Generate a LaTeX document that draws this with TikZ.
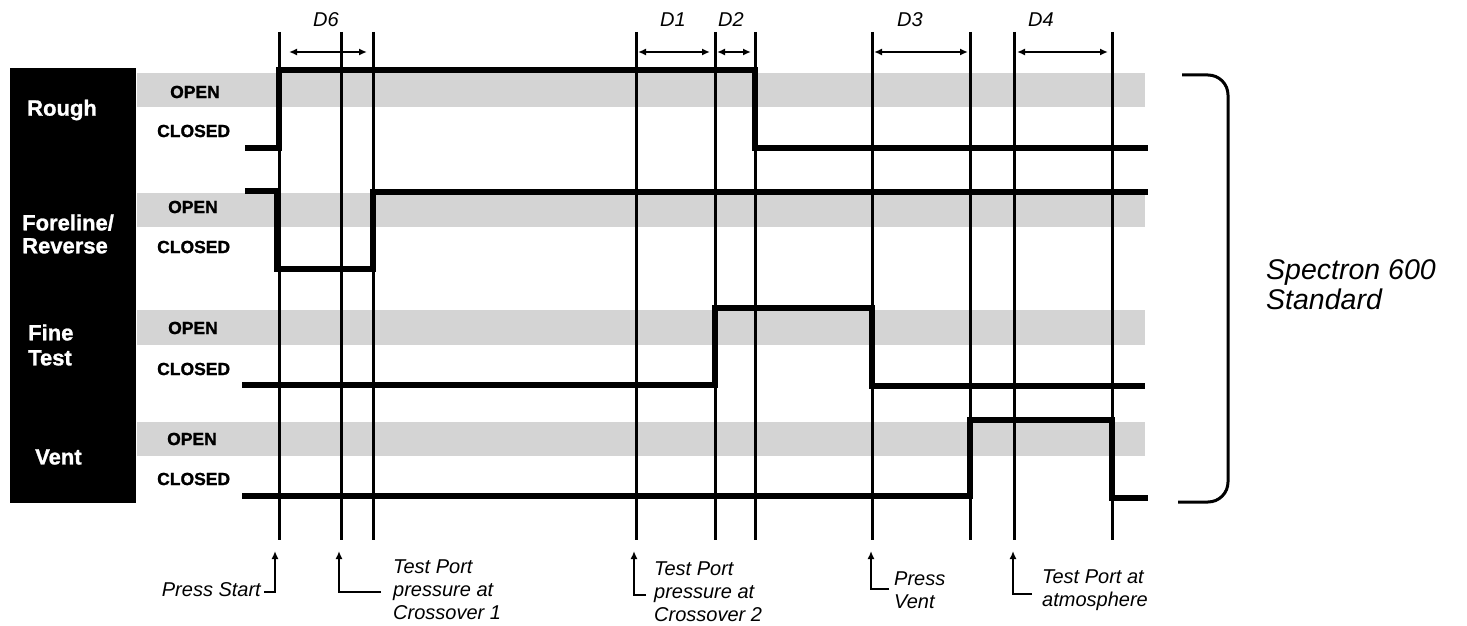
\documentclass[tikz,border=0pt]{standalone}
\usepackage{fontspec}
\setmainfont{Liberation Sans}
\newfontfamily\heavyfont{Liberation Sans}[BoldFeatures={FakeBold=1.2}]
\usetikzlibrary{arrows.meta}
\begin{document}
\begin{tikzpicture}[x=1pt,y=-1pt,
  wave/.style={line width=5.5pt, line join=miter},
  tline/.style={line width=3pt},
  band/.style={fill=black!17, draw=none},
  dimarrow/.style={line width=2.2pt, {Latex[length=8pt,width=7pt]}-{Latex[length=8pt,width=7pt]}},
  annarrow/.style={line width=2.6pt, -{Latex[length=8pt,width=7pt]}},
  dlab/.style={font=\fontsize{20}{22}\selectfont\itshape, inner sep=0pt},
  annlab/.style={font=\fontsize{20}{23}\selectfont\itshape, inner sep=0pt, align=left},
  state/.style={font=\fontsize{17.5}{19}\selectfont\heavyfont\bfseries, inner sep=0pt, anchor=west},
  valve/.style={font=\fontsize{22}{24}\selectfont\heavyfont\bfseries, text=white, inner sep=0pt, anchor=west, align=left},
  bracketline/.style={line width=3pt, rounded corners=20pt}]
\useasboundingbox (0,0) rectangle (1467,626);
% black label column
\fill[black] (10,68) rectangle (136,503);
% shaded OPEN bands
\fill[band] (137,73) rectangle (1145,107);
\fill[band] (137,193) rectangle (1145,227);
\fill[band] (137,310) rectangle (1145,345);
\fill[band] (137,422) rectangle (1145,456);
% valve labels
\node[valve] (rough) at (27,110) {Rough};
\node[valve, font=\fontsize{22}{23}\selectfont\heavyfont\bfseries] (fore) at (22,234) {Foreline/\\Reverse};
\node[valve, font=\fontsize{22}{25}\selectfont\heavyfont\bfseries] (fine) at (28,345) {Fine\\Test};
\node[valve] (vent) at (35,457) {Vent};
% state labels
\node[state] (o1) at (170,92) {OPEN};
\node[state] (c1) at (157,131) {CLOSED};
\node[state] (o2) at (168,207) {OPEN};
\node[state] (c2) at (157,247) {CLOSED};
\node[state] (o3) at (168,328) {OPEN};
\node[state] (c3) at (157,369) {CLOSED};
\node[state] (o4) at (167,439) {OPEN};
\node[state] (c4) at (157,479) {CLOSED};
% timing lines
\foreach \x/\n in {279/a,341/b,373/c,636/d,715/e,755/f,872/g,970/h,1014/i,1112/j}{
  \coordinate (top\n) at (\x,32);
  \coordinate (bot\n) at (\x,540);
  \draw[tline] (top\n) -- (bot\n);
}
% waveforms
\draw[wave] (245,148) -- (279,148) -- (279,70) -- (755,70) -- (755,148) -- (1148,148);
\draw[wave] (245,191) -- (277,191) -- (277,269) -- (373,269) -- (373,192) -- (1148,192);
\draw[wave] (242,385) -- (715,385) -- (715,308) -- (872,308) -- (872,386) -- (1145,386);
\draw[wave] (242,496) -- (970,496) -- (970,420) -- (1112,420) -- (1112,498) -- (1148,498);
% duration labels and arrows
\node[dlab] (D6) at (326,20) {D6};
\node[dlab] (D1) at (673,20) {D1};
\node[dlab] (D2) at (731,20) {D2};
\node[dlab] (D3) at (910,20) {D3};
\node[dlab] (D4) at (1041,20) {D4};
\coordinate (d6a) at (289,52); \coordinate (d6b) at (367,52);
\coordinate (d1a) at (638,52); \coordinate (d1b) at (710,52);
\coordinate (d2a) at (717,52); \coordinate (d2b) at (751,52);
\coordinate (d3a) at (874,52); \coordinate (d3b) at (968,52);
\coordinate (d4a) at (1017,52); \coordinate (d4b) at (1108,52);
\draw[dimarrow] (d6a) -- (d6b);
\draw[dimarrow] (d1a) -- (d1b);
\draw[dimarrow] (d2a) -- (d2b);
\draw[dimarrow] (d3a) -- (d3b);
\draw[dimarrow] (d4a) -- (d4b);
% event annotations
\node[annlab, anchor=east] (ps) at (261,590) {Press Start};
\coordinate (psE) at (264,592); \coordinate (psC) at (275,592); \coordinate (psT) at (275,551);
\draw[annarrow] (psE) -- (psC) -- (psT);
\node[annlab, anchor=west] (x1) at (393,590) {Test Port\\pressure at\\Crossover 1};
\coordinate (x1E) at (381,592); \coordinate (x1C) at (339,592); \coordinate (x1T) at (339,551);
\draw[annarrow] (x1E) -- (x1C) -- (x1T);
\node[annlab, anchor=west] (x2) at (654,592) {Test Port\\pressure at\\Crossover 2};
\coordinate (x2E) at (646,595); \coordinate (x2C) at (634,595); \coordinate (x2T) at (634,551);
\draw[annarrow] (x2E) -- (x2C) -- (x2T);
\node[annlab, anchor=west] (pv) at (894,590) {Press\\Vent};
\coordinate (pvE) at (889,589); \coordinate (pvC) at (871,589); \coordinate (pvT) at (871,551);
\draw[annarrow] (pvE) -- (pvC) -- (pvT);
\node[annlab, anchor=west] (ta) at (1042,590) {Test Port at\\atmosphere};
\coordinate (taE) at (1032,594); \coordinate (taC) at (1013,594); \coordinate (taT) at (1013,551);
\draw[annarrow] (taE) -- (taC) -- (taT);
% right bracket
\coordinate (brA) at (1182,75); \coordinate (brB) at (1228,75);
\coordinate (brC) at (1228,502); \coordinate (brD) at (1178,502);
\draw[bracketline] (brA) -- (brB) -- (brC) -- (brD);
\node[anchor=west, align=left, inner sep=0pt, font=\fontsize{28.5}{30}\selectfont\itshape] (spec) at (1266,285) {Spectron 600\\Standard};
\end{tikzpicture}
\end{document}
